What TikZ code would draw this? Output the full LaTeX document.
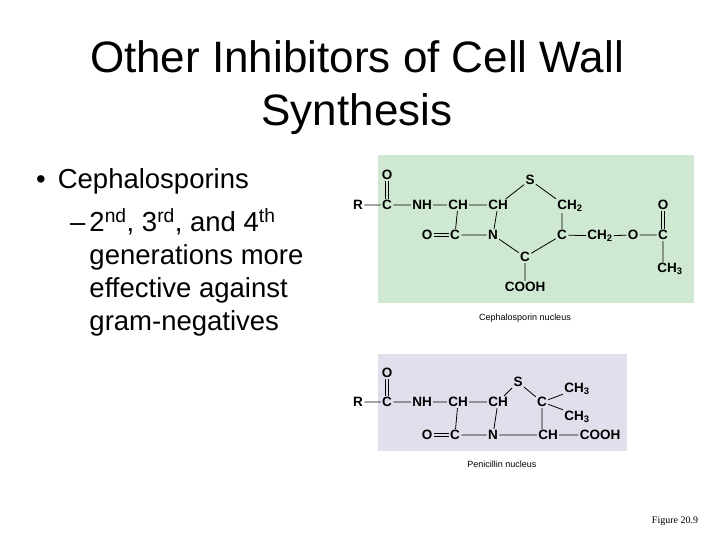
\documentclass[tikz,border=0pt]{standalone}
\usepackage{fontspec}
\setmainfont{Liberation Sans}
\newfontfamily\serifx{Liberation Serif}
\definecolor{cgreen}{HTML}{CFE8D1}
\definecolor{cviolet}{HTML}{E2DEEC}
\begin{document}
\begin{tikzpicture}[x=1pt,y=-1pt,
  atm/.style={font=\fontsize{13.5}{13.5}\bfseries\selectfont, inner sep=1.2pt},
  bd/.style={line width=0.8pt},
  body/.style={font=\fontsize{27.5}{33}\selectfont, anchor=west, inner sep=0pt}]
\useasboundingbox (0,0) rectangle (720,540);
\node[font=\fontsize{44}{53}\selectfont, align=center] (title) at (357,88) {Other Inhibitors of Cell Wall\\Synthesis};
\node[body] (b1) at (36,181) {•\hspace{12pt}Cephalosporins};
\node[body, align=left, anchor=north west] (b2) at (70,208) {–\hspace{4pt}\begin{tabular}[t]{@{}l@{}}2\textsuperscript{nd}, 3\textsuperscript{rd}, and 4\textsuperscript{th}\\ generations more\\ effective against\\ gram-negatives\end{tabular}};
% cephalosporin
\fill[cgreen] (378,155) rectangle (694,303);
\node[atm] (o1) at (387,175) {O};
\node[atm] (r1) at (358,205) {R};
\node[atm] (c1) at (387,205) {C};
\node[atm] (nh1) at (422,205) {NH};
\node[atm] (ch1) at (458,205) {CH};
\node[atm] (ch2) at (498,205) {CH};
\node[atm] (s1) at (530,180) {S};
\node[atm] (ch21) at (570,206) {CH\textsubscript{2}};
\node[atm] (o2) at (427,235) {O};
\node[atm] (c2) at (455,235) {C};
\node[atm] (n1) at (493,235) {N};
\node[atm] (c3) at (562,235) {C};
\node[atm] (ch22) at (600,236) {CH\textsubscript{2}};
\node[atm] (o3) at (633,235) {O};
\node[atm] (c4) at (663,235) {C};
\node[atm] (o4) at (663,205) {O};
\node[atm] (ch3a) at (670,269) {CH\textsubscript{3}};
\node[atm] (c5) at (525,257) {C};
\node[atm] (cooh1) at (525,287) {COOH};
\node[font=\fontsize{9}{9}\selectfont] (cap1) at (525,318) {Cephalosporin nucleus};
\draw[bd] (r1)--(c1) (c1)--(nh1) (nh1)--(ch1) (ch1)--(ch2) (ch2)--(s1) (s1)--(ch21.north west)
 (ch1)--(c2) (ch2)--(n1) (c2)--(n1) (n1)--(c5) (c5)--(c3) (c3)--(c3 |- ch21.south)
 (c3)--(ch22) (ch22)--(o3) (o3)--(c4) (c4)--(c4 |- ch3a.north) (c5)--(cooh1);
\draw[bd] ([xshift=-1.3pt]c1.north)--([xshift=-1.3pt]o1.south) ([xshift=1.3pt]c1.north)--([xshift=1.3pt]o1.south);
\draw[bd] ([xshift=-1.3pt]c4.north)--([xshift=-1.3pt]o4.south) ([xshift=1.3pt]c4.north)--([xshift=1.3pt]o4.south);
\draw[bd] ([yshift=-1.3pt]o2.east)--([yshift=-1.3pt]c2.west) ([yshift=1.3pt]o2.east)--([yshift=1.3pt]c2.west);
% penicillin
\fill[cviolet] (378,354) rectangle (627,451);
\node[atm] (po1) at (387,373) {O};
\node[atm] (pr) at (358,402) {R};
\node[atm] (pc1) at (387,402) {C};
\node[atm] (pnh) at (422,402) {NH};
\node[atm] (pch1) at (458,402) {CH};
\node[atm] (pch2) at (498,402) {CH};
\node[atm] (ps) at (518,382) {S};
\node[atm] (pc2) at (542,402) {C};
\node[atm] (pme1) at (577,389) {CH\textsubscript{3}};
\node[atm] (pme2) at (577,417) {CH\textsubscript{3}};
\node[atm] (po2) at (427,435) {O};
\node[atm] (pc3) at (455,435) {C};
\node[atm] (pn) at (493,435) {N};
\node[atm] (pch3) at (548,435) {CH};
\node[atm] (pcooh) at (600,435) {COOH};
\node[font=\fontsize{9}{9}\selectfont] (cap2) at (502,464) {Penicillin nucleus};
\draw[bd] (pr)--(pc1) (pc1)--(pnh) (pnh)--(pch1) (pch1)--(pch2) (pch2)--(ps) (ps)--(pc2)
 (pc2)--(pme1) (pc2)--(pme2.north west) (pch1)--(pc3) (pch2)--(pn) (pc3)--(pn) (pn)--(pch3) (pch3)--(pcooh)
 (pc2)--(pc2 |- pch3.north);
\draw[bd] ([xshift=-1.3pt]pc1.north)--([xshift=-1.3pt]po1.south) ([xshift=1.3pt]pc1.north)--([xshift=1.3pt]po1.south);
\draw[bd] ([yshift=-1.3pt]po2.east)--([yshift=-1.3pt]pc3.west) ([yshift=1.3pt]po2.east)--([yshift=1.3pt]pc3.west);
\node[font=\serifx\fontsize{10}{10}\selectfont] (fig) at (675,521) {Figure 20.9};
\end{tikzpicture}
\end{document}
